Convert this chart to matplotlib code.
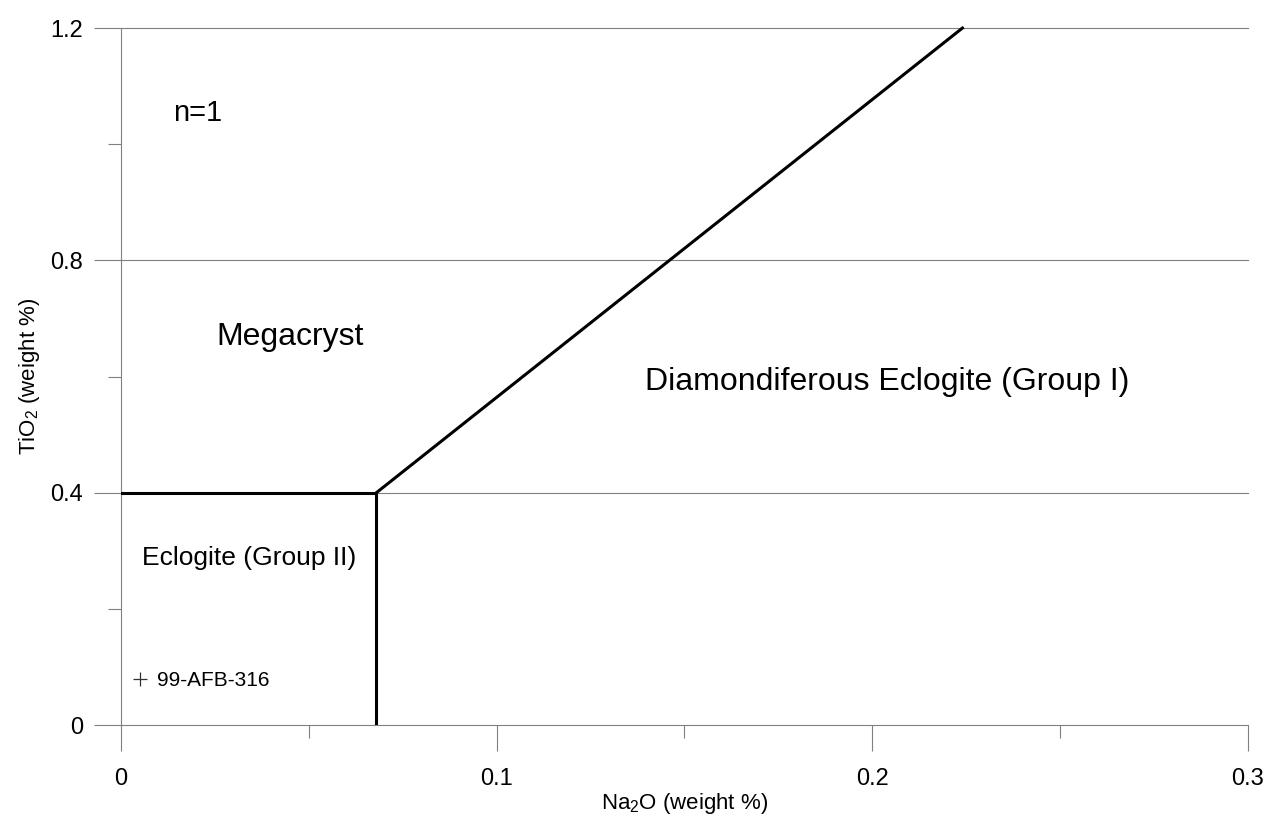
import numpy as np
import matplotlib
matplotlib.use('Agg')
import matplotlib.pyplot as plt
from matplotlib.ticker import MultipleLocator

plt.rcParams['font.family'] = ['Liberation Sans', 'DejaVu Sans']
plt.rcParams['mathtext.fontset'] = 'custom'
plt.rcParams['mathtext.rm'] = 'Liberation Sans'
plt.rcParams['mathtext.it'] = 'Liberation Sans:italic'

# ------ field boundaries (Na2O vs TiO2, weight %)

group2_x = [0.0, 0.068, 0.068]   # Eclogite (Group II) box
group2_y = [0.4, 0.4, 0.0]
diag_x = [0.068, 0.224]           # Megacryst / Group I divide
diag_y = [0.4, 1.2]

# ------ sample

sample_na2o = [0.0051]
sample_tio2 = [0.079]
sample_names = ['99-AFB-316']

fields = ['n=1', 'Megacryst', 'Diamondiferous Eclogite (Group I)', 'Eclogite (Group II)']
field_x = [0.0138, 0.0253, 0.1395, 0.0056]
field_y = [1.054, 0.668, 0.59, 0.2875]
field_size = [21, 23, 23, 19]

x_ticks = [0, 0.1, 0.2, 0.3]
x_ticklabels = ['0', '0.1', '0.2', '0.3']
y_ticks = [0, 0.4, 0.8, 1.2]
y_ticklabels = ['0', '0.4', '0.8', '1.2']

grey = '#808080'

fig = plt.figure(figsize=(12.68, 8.17), dpi=100)
ax = fig.add_axes([0.0954, 0.1126, 0.8888, 0.8531])

ax.set_xlim(0, 0.3)
ax.set_ylim(0, 1.2)

for s in ['top', 'right']:
    ax.spines[s].set_visible(False)
for s in ['left', 'bottom']:
    ax.spines[s].set_color(grey)
    ax.spines[s].set_linewidth(0.8)

ax.set_xticks(x_ticks)
ax.set_xticklabels(x_ticklabels)
ax.set_yticks(y_ticks)
ax.set_yticklabels(y_ticklabels)
ax.xaxis.set_minor_locator(MultipleLocator(0.05))
ax.yaxis.set_minor_locator(MultipleLocator(0.2))

ax.tick_params(axis='x', which='major', length=18.7, width=0.8, color=grey, labelsize=17, pad=12)
ax.tick_params(axis='x', which='minor', length=9.4, width=0.8, color=grey)
ax.tick_params(axis='y', which='major', length=19.4, width=0.8, color=grey, labelsize=17, pad=8)
ax.tick_params(axis='y', which='minor', length=9.4, width=0.8, color=grey)

for yv in y_ticks[1:]:
    ax.axhline(yv, color=grey, lw=0.8, zorder=1, clip_on=False)

ax.plot(group2_x, group2_y, color='k', lw=2.2, solid_joinstyle='miter', zorder=3)
ax.plot(diag_x, diag_y, color='k', lw=2.2, zorder=3, clip_on=False)

ax.plot(sample_na2o, sample_tio2, '+', color='#333333', ms=10, mew=0.9, zorder=4)
for x, y, name in zip(sample_na2o, sample_tio2, sample_names):
    ax.text(x + 0.0045, y - 0.003, name, fontsize=15, ha='left', va='center')

for label, x, y, fs in zip(fields, field_x, field_y, field_size):
    ax.text(x, y, label, fontsize=fs, ha='left', va='center')

ax.set_xlabel(r'Na$_\mathregular{2}$O (weight %)', fontsize=16, labelpad=1)
ax.set_ylabel(r'TiO$_\mathregular{2}$ (weight %)', fontsize=16, labelpad=6)

fig.savefig('out.png', dpi=100)
